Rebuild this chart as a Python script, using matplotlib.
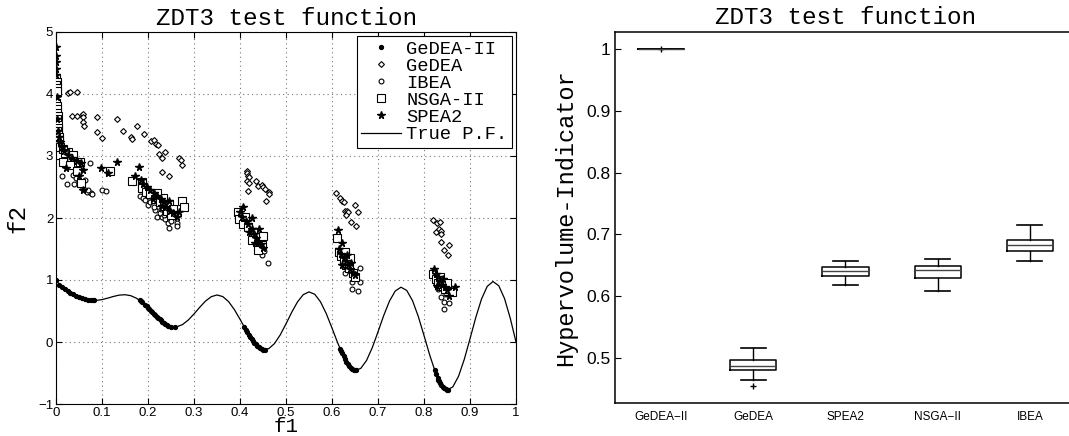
import matplotlib
matplotlib.use("Agg")
import matplotlib.pyplot as plt
import numpy as np

# ---- left panel: objective space ----
pf_f1 = [0.0, 0.0125, 0.025, 0.0375, 0.05, 0.0625, 0.075, 0.0875, 0.1, 0.1125, 0.125, 0.1375,
         0.15, 0.1625, 0.175, 0.1875, 0.2, 0.2125, 0.225, 0.2375, 0.25, 0.2625, 0.275, 0.2875,
         0.3, 0.3125, 0.325, 0.3375, 0.35, 0.3625, 0.375, 0.3875, 0.4, 0.4125, 0.425, 0.4375,
         0.45, 0.4625, 0.475, 0.4875, 0.5, 0.5125, 0.525, 0.5375, 0.55, 0.5625, 0.575, 0.5875,
         0.6, 0.6125, 0.625, 0.6375, 0.65, 0.6625, 0.675, 0.6875, 0.7, 0.7125, 0.725, 0.7375,
         0.75, 0.7625, 0.775, 0.7875, 0.8, 0.8125, 0.825, 0.8375, 0.85, 0.8625, 0.875, 0.8875,
         0.9, 0.9125, 0.925, 0.9375, 0.95, 0.9625, 0.975, 0.9875, 1.0]
pf_f2 = [1.0, 0.8834, 0.8242, 0.7717, 0.7264, 0.6923, 0.6731, 0.6707, 0.6838, 0.7076, 0.7348, 0.7562,
         0.7627, 0.7470, 0.7054, 0.6387, 0.5528, 0.4577, 0.3666, 0.2932, 0.25, 0.2451, 0.2811, 0.3538,
         0.4523, 0.5606, 0.6597, 0.7309, 0.7584, 0.7328, 0.6528, 0.5258, 0.3675, 0.1999, 0.0476, -0.0656,
         -0.1208, -0.1074, -0.0251, 0.1152, 0.2929, 0.4802, 0.6467, 0.7635, 0.8084, 0.7697, 0.6483, 0.4583,
         0.2254, -0.0170, -0.2325, -0.3874, -0.4562, -0.4260, -0.2989, -0.0923, 0.1633, 0.4286, 0.6612, 0.8226,
         0.8840, 0.8312, 0.6677, 0.4140, 0.1056, -0.2123, -0.4917, -0.6889, -0.7720, -0.7256, -0.5541, -0.2817,
         0.0513, 0.3940, 0.6923, 0.8979, 0.9753, 0.9082, 0.7020, 0.3842, 0.0]

gedea2_f1 = [0.0, 0.006, 0.0125, 0.019, 0.025, 0.031, 0.0375, 0.044, 0.05, 0.056, 0.0625, 0.069, 0.075, 0.080, 0.083,
             0.182, 0.185, 0.1875, 0.194, 0.197, 0.2, 0.203, 0.206, 0.209, 0.2125, 0.216, 0.219, 0.222, 0.225,
             0.228, 0.231, 0.234, 0.2375, 0.241, 0.244, 0.25, 0.258,
             0.409, 0.4125, 0.4155, 0.419, 0.422, 0.425, 0.428, 0.431, 0.434, 0.4375, 0.441, 0.444, 0.447, 0.45, 0.454,
             0.618, 0.6195, 0.6215, 0.625, 0.628, 0.631, 0.634, 0.6375, 0.641, 0.644, 0.647, 0.65, 0.653,
             0.823, 0.826, 0.8295, 0.8315, 0.833, 0.835, 0.8375, 0.8405, 0.844, 0.847, 0.85, 0.852]
gedea2_f2 = [1.0, 0.921, 0.883, 0.851, 0.824, 0.798, 0.772, 0.747, 0.726, 0.708, 0.692, 0.680, 0.673, 0.670, 0.670,
             0.671, 0.654, 0.639, 0.596, 0.575, 0.553, 0.530, 0.508, 0.485, 0.458, 0.431, 0.409, 0.387, 0.367,
             0.347, 0.328, 0.311, 0.293, 0.278, 0.266, 0.25, 0.242,
             0.246, 0.200, 0.161, 0.117, 0.081, 0.048, 0.016, -0.013, -0.039, -0.066, -0.088, -0.102, -0.114, -0.121, -0.124,
             -0.117, -0.143, -0.177, -0.233, -0.276, -0.316, -0.352, -0.387, -0.416, -0.435, -0.449, -0.456, -0.458,
             -0.451, -0.511, -0.574, -0.607, -0.630, -0.658, -0.689, -0.720, -0.748, -0.764, -0.772, -0.773]

gedea_f1 = [0.027, 0.030, 0.046, 0.034, 0.045, 0.056, 0.059, 0.058, 0.059, 0.061,
            0.090, 0.090, 0.099, 0.132, 0.146, 0.162, 0.166, 0.175, 0.191, 0.206, 0.213, 0.217, 0.222,
            0.238, 0.223, 0.230, 0.267, 0.272, 0.273, 0.230, 0.246,
            0.415, 0.416, 0.418, 0.420, 0.416, 0.419, 0.417, 0.435, 0.440, 0.447, 0.451, 0.454, 0.462, 0.463, 0.457,
            0.608, 0.617, 0.621, 0.627, 0.628, 0.633, 0.635, 0.630, 0.650, 0.656, 0.641, 0.652,
            0.819, 0.828, 0.835, 0.825, 0.833, 0.837, 0.838, 0.836, 0.855, 0.844, 0.853]
gedea_f2 = [4.02, 4.03, 4.03, 3.65, 3.65, 3.66, 3.68, 3.63, 3.55, 3.48,
            3.63, 3.38, 3.29, 3.59, 3.40, 3.30, 3.27, 3.49, 3.35, 3.24, 3.25, 3.19, 3.17,
            3.06, 3.03, 2.97, 2.96, 2.94, 2.85, 2.74, 2.68,
            2.76, 2.72, 2.68, 2.66, 2.59, 2.57, 2.44, 2.59, 2.52, 2.53, 2.50, 2.46, 2.42, 2.39, 2.27,
            2.40, 2.32, 2.27, 2.25, 2.12, 2.12, 2.10, 2.05, 2.21, 2.10, 1.94, 1.87,
            1.97, 1.92, 1.94, 1.78, 1.83, 1.79, 1.75, 1.62, 1.56, 1.49, 1.40]

ibea_f1 = [0.003, 0.008, 0.012, 0.023, 0.040, 0.038, 0.043, 0.058, 0.067, 0.076, 0.063, 0.059, 0.070, 0.078,
           0.050, 0.030, 0.020, 0.045, 0.101, 0.109, 0.074,
           0.183, 0.190, 0.193, 0.201, 0.215, 0.220, 0.230, 0.237, 0.244, 0.246, 0.262, 0.262,
           0.205, 0.225, 0.212, 0.235, 0.250, 0.198, 0.228,
           0.436, 0.447, 0.460, 0.430, 0.442, 0.452, 0.425, 0.415,
           0.628, 0.643, 0.661, 0.661, 0.644, 0.656, 0.635, 0.648, 0.625, 0.640,
           0.844, 0.855, 0.843, 0.837, 0.830, 0.848, 0.826, 0.840]
ibea_f2 = [3.05, 3.00, 2.68, 2.55, 2.55, 2.70, 2.64, 2.46, 2.42, 2.40, 2.61, 2.48, 2.45, 2.39,
           2.60, 2.85, 2.95, 2.80, 2.45, 2.44, 2.88,
           2.35, 2.32, 2.29, 2.21, 2.13, 2.02, 2.01, 1.98, 1.92, 1.84, 1.92, 1.87,
           2.25, 2.08, 2.18, 2.05, 1.95, 2.38, 2.15,
           1.50, 1.40, 1.27, 1.62, 1.55, 1.46, 1.75, 1.85,
           1.11, 0.97, 1.19, 0.96, 0.85, 0.82, 1.20, 1.05, 1.30, 1.15,
           0.65, 0.63, 0.54, 0.72, 0.85, 0.78, 0.95, 0.90]

nsga2_f1 = [0.001, 0.002, 0.001, 0.003, 0.002, 0.001, 0.002, 0.003, 0.002, 0.004, 0.003, 0.002, 0.004, 0.005,
            0.003, 0.005, 0.006, 0.007, 0.006, 0.008,
            0.009, 0.016, 0.027, 0.038, 0.052, 0.054, 0.117, 0.015, 0.030, 0.045, 0.020,
            0.165, 0.188, 0.186, 0.273, 0.278, 0.195, 0.205, 0.215, 0.225, 0.235, 0.242, 0.250, 0.232, 0.220,
            0.245, 0.255,
            0.396, 0.398, 0.407, 0.418, 0.429, 0.436, 0.451, 0.447, 0.440, 0.410, 0.425,
            0.610, 0.615, 0.620, 0.625, 0.630, 0.638, 0.645, 0.650, 0.640, 0.628,
            0.820, 0.825, 0.830, 0.838, 0.845, 0.860, 0.835, 0.850]
nsga2_f2 = [4.25, 4.20, 4.15, 4.10, 4.05, 3.85, 3.80, 3.75, 3.70, 3.65, 3.60, 3.55, 3.50, 3.45,
            3.40, 3.35, 3.30, 3.25, 3.20, 3.15,
            3.02, 2.91, 3.07, 3.02, 2.91, 2.56, 2.76, 3.12, 2.85, 2.75, 3.05,
            2.59, 2.58, 2.48, 2.28, 2.17, 2.42, 2.38, 2.30, 2.25, 2.20, 2.12, 2.05, 2.32, 2.40,
            2.22, 2.15,
            2.09, 1.98, 1.91, 1.86, 1.78, 1.70, 1.71, 1.56, 1.48, 2.02, 1.65,
            1.68, 1.45, 1.38, 1.30, 1.25, 1.20, 1.12, 1.05, 1.35, 1.45,
            1.10, 1.02, 0.95, 0.90, 0.85, 0.81, 1.05, 0.95]

spea2_f1 = [0.0, 0.0, 0.0, 0.0, 0.0, 0.002, 0.003, 0.004, 0.006, 0.008, 0.012, 0.018, 0.025, 0.035, 0.045, 0.055,
            0.022, 0.059, 0.098, 0.114, 0.133, 0.059, 0.050,
            0.180, 0.172, 0.185, 0.190, 0.198, 0.205, 0.212, 0.220, 0.228, 0.235, 0.240, 0.248, 0.255, 0.262,
            0.268, 0.230, 0.245, 0.210,
            0.407, 0.427, 0.442, 0.400, 0.405, 0.412, 0.418, 0.425, 0.430, 0.435, 0.440, 0.445, 0.450, 0.420, 0.432,
            0.612, 0.621, 0.615, 0.620, 0.625, 0.630, 0.635, 0.640, 0.645, 0.650, 0.632, 0.642, 0.622,
            0.822, 0.826, 0.830, 0.835, 0.840, 0.845, 0.850, 0.867, 0.828, 0.842, 0.855]
spea2_f2 = [4.75, 4.62, 4.52, 4.41, 4.30, 3.95, 3.60, 3.40, 3.30, 3.22, 3.15, 3.08, 3.02, 2.97, 2.92, 2.88,
            2.80, 2.77, 2.81, 2.73, 2.90, 2.45, 2.68,
            2.83, 2.68, 2.62, 2.55, 2.50, 2.45, 2.40, 2.35, 2.30, 2.25, 2.18, 2.12, 2.08, 2.02,
            2.10, 2.20, 2.28, 2.30,
            2.18, 2.00, 1.83, 2.10, 2.02, 1.95, 1.90, 1.82, 1.75, 1.68, 1.62, 1.58, 1.52, 1.78, 1.60,
            1.81, 1.59, 1.50, 1.42, 1.36, 1.30, 1.24, 1.18, 1.12, 1.08, 1.40, 1.28, 1.25,
            1.18, 1.10, 1.05, 0.98, 0.92, 0.88, 0.84, 0.89, 0.90, 1.02, 0.75]

# ---- right panel: hypervolume box plot ----
algorithms = ["GeDEA\u2212II", "GeDEA", "SPEA2", "NSGA\u2212II", "IBEA"]
hv_median = [1.0, 0.487, 0.6405, 0.6422, 0.6822]
hv_q1 = [1.0, 0.480, 0.6324, 0.6297, 0.673]
hv_q3 = [1.0, 0.4962, 0.6476, 0.6492, 0.6903]
hv_whislo = [1.0, 0.4638, 0.6178, 0.6086, 0.6573]
hv_whishi = [1.0, 0.5168, 0.6573, 0.6600, 0.7146]
hv_outliers = [[1.0], [0.454], [], [], []]

mono = "Liberation Mono"
sans = "Liberation Sans"

W, H = 1069, 436
fig = plt.figure(figsize=(W / 100, H / 100), dpi=100)
ax1 = fig.add_axes([56 / W, 1 - 404 / H, 460 / W, 372 / H])
ax2 = fig.add_axes([615 / W, 1 - 403 / H, 461 / W, 371 / H])

ax1.plot(gedea2_f1, gedea2_f2, "o", color="black", ms=2.8, label="GeDEA-II", zorder=4)
ax1.plot(gedea_f1, gedea_f2, "D", mfc="white", mec="black", ms=3, mew=0.8, label="GeDEA", zorder=3)
ax1.plot(ibea_f1, ibea_f2, "o", mfc="white", mec="black", ms=3.5, mew=0.8, label="IBEA", zorder=3)
ax1.plot(nsga2_f1, nsga2_f2, "s", mfc="white", mec="black", ms=6, mew=0.8, label="NSGA-II", zorder=3)
ax1.plot(spea2_f1, spea2_f2, "*", color="black", ms=5.5, label="SPEA2", zorder=3)
ax1.plot(pf_f1, pf_f2, "-", color="black", lw=0.9, label="True P.F.", zorder=2)

ax1.set_xlim(0, 1)
ax1.set_ylim(-1, 5)
ax1.set_xticks(np.arange(0, 1.01, 0.1))
ax1.set_xticklabels(["0", "0.1", "0.2", "0.3", "0.4", "0.5", "0.6", "0.7", "0.8", "0.9", "1"])
ax1.set_yticks(range(-1, 6))
ax1.set_yticklabels(["\u22121", "0", "1", "2", "3", "4", "5"])
ax1.grid(True, linestyle=(0, (1, 3)), color="#777777", lw=0.8)
ax1.tick_params(direction="in", top=True, right=True, length=4, labelsize=9.5, pad=2)
for lab in ax1.get_xticklabels() + ax1.get_yticklabels():
    lab.set_family(sans)
ax1.set_title("ZDT3 test function", family=mono, fontsize=17.5, pad=5)
ax1.set_xlabel("f1", family=mono, fontsize=15, va="bottom")
ax1.xaxis.set_label_coords(0.5, -(H - 404) / 372)
ax1.set_ylabel("f2", family=mono, fontsize=17.5, labelpad=6)
leg = ax1.legend(loc="upper right", prop={"family": mono, "size": 13.5}, labelspacing=0.0,
                 handlelength=2.1, handletextpad=0.3, borderpad=0.25, borderaxespad=0.2,
                 fancybox=False, framealpha=1, edgecolor="black")
leg.get_frame().set_linewidth(0.8)

stats = []
for i, name in enumerate(algorithms):
    stats.append({"label": name, "med": hv_median[i], "q1": hv_q1[i], "q3": hv_q3[i],
                  "whislo": hv_whislo[i], "whishi": hv_whishi[i], "fliers": hv_outliers[i]})
ax2.bxp(stats, positions=range(1, 6), widths=0.5, capwidths=0.27,
        boxprops=dict(color="black", lw=1.1),
        medianprops=dict(color="#444444", lw=1.0),
        whiskerprops=dict(color="black", lw=1.0),
        capprops=dict(color="black", lw=1.2),
        flierprops=dict(marker="+", markeredgecolor="black", ms=5, mew=1.0))
ax2.set_xlim(0.5, 5.5)
ax2.set_ylim(0.427, 1.0275)
ax2.set_yticks([0.5, 0.6, 0.7, 0.8, 0.9, 1.0])
ax2.set_yticklabels(["0.5", "0.6", "0.7", "0.8", "0.9", "1"])
ax2.tick_params(axis="y", direction="in", right=True, length=4, labelsize=12.5)
ax2.tick_params(axis="x", length=0, labelsize=8.5, pad=6)
for lab in ax2.get_xticklabels() + ax2.get_yticklabels():
    lab.set_family(sans)
ax2.set_title("ZDT3 test function", family=mono, fontsize=17.5, pad=6)
ax2.set_ylabel("Hypervolume-Indicator", family=mono, fontsize=17, labelpad=6)
for sp in ax2.spines.values():
    sp.set_linewidth(1.1)

fig.savefig("out.png", dpi=100)
